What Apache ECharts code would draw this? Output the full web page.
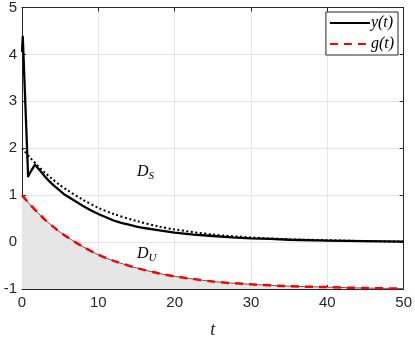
<!DOCTYPE html>
<html>
<head>
<meta charset="utf-8">
<script src="https://cdn.jsdelivr.net/npm/echarts@6/dist/echarts.min.js"></script>
<style>
  html, body { margin: 0; padding: 0; background: #fff; }
  #main { width: 415px; height: 344px; }
</style>
</head>
<body>
<div id="main"></div>
<script>
// y(t) - solid black
var tY = [0, 0.1, 0.45, 0.8, 1.2, 1.7, 2.5, 3, 3.5, 4, 4.5, 5, 5.5, 6, 7, 8, 9, 10, 11, 12, 13, 14, 15, 16, 18, 20, 22.5, 25, 27.5, 30, 32.5, 35, 40, 45, 50];
var yVals = [4.05, 4.38, 2.9, 1.40, 1.52, 1.65, 1.50, 1.40, 1.31, 1.23, 1.16, 1.09, 1.02, 0.97, 0.87, 0.77, 0.68, 0.60, 0.53, 0.46, 0.41, 0.37, 0.33, 0.30, 0.25, 0.20, 0.16, 0.13, 0.10, 0.08, 0.07, 0.05, 0.03, 0.02, 0.01];

// upper boundary (dotted) and g(t) (red dashed)
var tG = [0, 1, 2, 3, 4, 5, 6, 8, 10, 12, 15, 18, 20, 25, 30, 35, 40, 45, 50];
var dotVals = [2.0, 1.81, 1.64, 1.48, 1.34, 1.21, 1.10, 0.90, 0.73, 0.60, 0.45, 0.33, 0.27, 0.16, 0.10, 0.06, 0.04, 0.02, 0.01];
var gVals = [1.0, 0.81, 0.64, 0.48, 0.34, 0.21, 0.10, -0.10, -0.27, -0.40, -0.55, -0.67, -0.73, -0.84, -0.90, -0.94, -0.96, -0.98, -0.99];

var xTicks = [0, 10, 20, 30, 40, 50];
var yTicks = [-1, 0, 1, 2, 3, 4, 5];

function pairs(xs, ys) {
  return xs.map(function (x, i) { return [x, ys[i]]; });
}

var axisCol = '#262626';
var serif = '"Liberation Serif", "DejaVu Serif", serif';
var sans = '"Liberation Sans", Arial, sans-serif';

var chart = echarts.init(document.getElementById('main'));

var option = {
  animation: false,
  grid: { left: 22, right: 11, top: 6, bottom: 49 },
  legend: {
    data: ['y(t)', 'g(t)'],
    orient: 'vertical',
    right: 17,
    top: 12,
    itemWidth: 40,
    itemHeight: 14,
    itemGap: 5,
    padding: [3, 4, 3, 3],
    backgroundColor: '#fff',
    borderColor: '#262626',
    borderWidth: 1,
    itemStyle: { opacity: 0 },
    textStyle: { fontFamily: serif, fontStyle: 'italic', fontSize: 16, color: '#000', padding: [0, 0, 0, -4] }
  },
  xAxis: [{
    type: 'value', min: 0, max: 50, interval: 10,
    name: 't', nameLocation: 'middle', nameGap: 32,
    nameTextStyle: { fontFamily: serif, fontStyle: 'italic', fontSize: 18, color: axisCol },
    axisLine: { show: true, onZero: false, lineStyle: { color: axisCol, width: 1 } },
    axisTick: { show: true, inside: true, length: 4, lineStyle: { color: axisCol } },
    axisLabel: { fontFamily: sans, fontSize: 15, color: axisCol, margin: 6,
      formatter: function (v) { return xTicks.indexOf(v) >= 0 ? String(v) : ''; } },
    splitLine: { show: true, lineStyle: { color: '#e6e6e6', width: 1 } }
  }, {
    type: 'value', min: 0, max: 50, interval: 10, position: 'top',
    axisLine: { show: true, onZero: false, lineStyle: { color: axisCol, width: 1 } },
    axisTick: { show: true, inside: true, length: 4, lineStyle: { color: axisCol } },
    axisLabel: { show: false }, splitLine: { show: false }
  }],
  yAxis: [{
    type: 'value', min: -1, max: 5, interval: 1,
    axisLine: { show: true, onZero: false, lineStyle: { color: axisCol, width: 1 } },
    axisTick: { show: true, inside: true, length: 4, lineStyle: { color: axisCol } },
    axisLabel: { fontFamily: sans, fontSize: 15, color: axisCol, margin: 5,
      formatter: function (v) { return yTicks.indexOf(v) >= 0 ? String(v) : ''; } },
    splitLine: { show: true, lineStyle: { color: '#e6e6e6', width: 1 } }
  }, {
    type: 'value', min: -1, max: 5, interval: 1, position: 'right',
    axisLine: { show: true, onZero: false, lineStyle: { color: axisCol, width: 1 } },
    axisTick: { show: true, inside: true, length: 4, lineStyle: { color: axisCol } },
    axisLabel: { show: false }, splitLine: { show: false }
  }],
  graphic: [{
    type: 'text', left: 137, top: 164, z: 10,
    style: {
      text: '{d|D}{s|S}',
      rich: {
        d: { fontFamily: serif, fontStyle: 'italic', fontSize: 16, fill: '#000' },
        s: { fontFamily: serif, fontStyle: 'italic', fontSize: 11, fill: '#000', padding: [8, 0, 0, 0] }
      }
    }
  }, {
    type: 'text', left: 137, top: 246, z: 10,
    style: {
      text: '{d|D}{s|U}',
      rich: {
        d: { fontFamily: serif, fontStyle: 'italic', fontSize: 16, fill: '#000' },
        s: { fontFamily: serif, fontStyle: 'italic', fontSize: 11, fill: '#000', padding: [8, 0, 0, 0] }
      }
    }
  }],
  series: [{
    name: 'region',
    type: 'line',
    data: pairs(tG, gVals),
    smooth: 0.3,
    symbol: 'none',
    lineStyle: { color: '#333', width: 0.8 },
    areaStyle: { color: '#e6e6e6', opacity: 1, origin: 'start' },
    z: 1
  }, {
    name: 'bound',
    type: 'line',
    data: pairs(tG, dotVals),
    smooth: 0.3,
    symbol: 'none',
    lineStyle: { color: '#000', width: 2, type: [2, 2.5] },
    z: 2
  }, {
    name: 'y(t)',
    type: 'line',
    data: pairs(tY, yVals),
    symbol: 'none',
    lineStyle: { color: '#000', width: 2.3, join: 'round' },
    itemStyle: { color: '#000' },
    z: 3
  }, {
    name: 'g(t)',
    type: 'line',
    data: pairs(tG, gVals),
    smooth: 0.3,
    symbol: 'none',
    lineStyle: { color: '#ff0000', width: 2.5, type: [8, 6] },
    itemStyle: { color: '#ff0000' },
    z: 4
  }]
};

chart.setOption(option);
</script>
</body>
</html>
